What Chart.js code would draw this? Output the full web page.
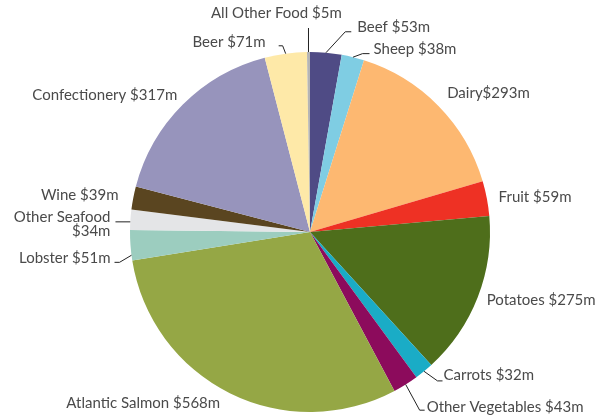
<!DOCTYPE html>
<html>
<head>
<meta charset="utf-8">
<script src="https://cdn.jsdelivr.net/npm/chart.js@4"></script>
<style>
html,body{margin:0;padding:0;background:#fff;}
#wrap{width:599px;height:415px;position:relative;}
</style>
</head>
<body>
<div id="wrap"><canvas id="c" width="599" height="415"></canvas></div>
<script>
const categories = ["Beef","Sheep","Dairy","Fruit","Potatoes","Carrots","Other Vegetables","Atlantic Salmon","Lobster","Other Seafood","Wine","Confectionery","Beer","All Other Food"];
const values = [53,38,293,59,275,32,43,568,51,34,39,317,71,5];
const labelTexts = [["Beef $53m"],["Sheep $38m"],["Dairy$293m"],["Fruit $59m"],["Potatoes $275m"],["Carrots $32m"],["Other Vegetables $43m"],["Atlantic Salmon $568m"],["Lobster $51m"],["Other Seafood","$34m"],["Wine $39m"],["Confectionery $317m"],["Beer $71m"],["All Other Food $5m"]];
const colors = ["#4f4b85","#7fcde3","#fdb871","#ee3124","#4e6e1b","#1aacc6","#8c0b5c","#95a745","#9ccdbf","#e4e5e7","#5a4520","#9794bc","#fee9a8","#b5b5b5"];

// label layout: nudge from radial point (outer radius + 15), alignment, leader lines (relative to text anchor)
const labelLayout = [
  {n:[30,-11], al:"left", lead:{a:0, pts:[[-12,5],[-6,5]]}},
  {n:[17,7], al:"left", lead:{a:0, pts:[[-11,4],[-4,4]]}},
  {n:[-2,-2], al:"left"},
  {n:[-3,1], al:"left"},
  {n:[-5,-3], al:"left"},
  {n:[10,-8], al:"left", lead:{a:0, pts:[[-6,6],[-1,6]]}},
  {n:[13,10], al:"left", lead:{a:0, pts:[[-7,3],[-2,3]]}},
  {n:[-3,-3], al:"right"},
  {n:[-5,12], al:"right", lead:{a:-3.2, pts:[[9,4],[4,4]]}},
  {n:[-5,6], al:"right", lead:{a:-0.7, pts:[[5,-3]], horiz:true}},
  {n:[0,0], al:"right"},
  {n:[5,1], al:"right"},
  {n:[-18,3], al:"right", lead:{a:0, pts:[[17,4],[13,4]]}},
  {n:[-32,-24], al:"center", lead:{a:0, vert:15}}
];

const labelPlugin = {
  id: "outLabels",
  afterDatasetsDraw(chart) {
    const ctx = chart.ctx;
    const meta = chart.getDatasetMeta(0);
    ctx.save();
    ctx.font = "15px Lato";
    ctx.fillStyle = "#4a4a4a";
    ctx.strokeStyle = "#222222";
    ctx.lineWidth = 1;
    ctx.textBaseline = "middle";
    meta.data.forEach((arc, i) => {
      const p = arc.getProps(["x","y","startAngle","endAngle","outerRadius"], true);
      const mid = (p.startAngle + p.endAngle) / 2;
      const R = p.outerRadius + 15;
      const L = labelLayout[i];
      const ax = p.x + Math.cos(mid) * R + L.n[0];
      const ay = p.y + Math.sin(mid) * R + L.n[1];
      const lines = labelTexts[i];
      ctx.textAlign = L.al;
      const lh = 14;
      lines.forEach((t, k) => {
        ctx.fillText(t, ax, ay + (k - (lines.length - 1) / 2) * lh);
      });
      if (L.lead) {
        const a = mid + (L.lead.a || 0) * Math.PI / 180;
        const ex = p.x + Math.cos(a) * p.outerRadius;
        const ey = p.y + Math.sin(a) * p.outerRadius;
        ctx.beginPath();
        ctx.moveTo(ex, ey);
        if (L.lead.vert) {
          ctx.lineTo(ex, ay + L.lead.vert);
        } else if (L.lead.horiz) {
          ctx.lineTo(ax + L.lead.pts[0][0], ey);
        } else {
          L.lead.pts.forEach(q => ctx.lineTo(ax + q[0], ay + q[1]));
        }
        ctx.stroke();
      }
    });
    ctx.restore();
  }
};

new Chart(document.getElementById("c"), {
  type: "pie",
  data: {
    labels: categories,
    datasets: [{
      data: values,
      backgroundColor: colors,
      borderWidth: 0
    }]
  },
  options: {
    responsive: false,
    animation: false,
    layout: { padding: { left: 130, right: 109, top: 52, bottom: 3 } },
    plugins: { legend: { display: false }, tooltip: { enabled: false } }
  },
  plugins: [labelPlugin]
});
</script>
</body>
</html>
